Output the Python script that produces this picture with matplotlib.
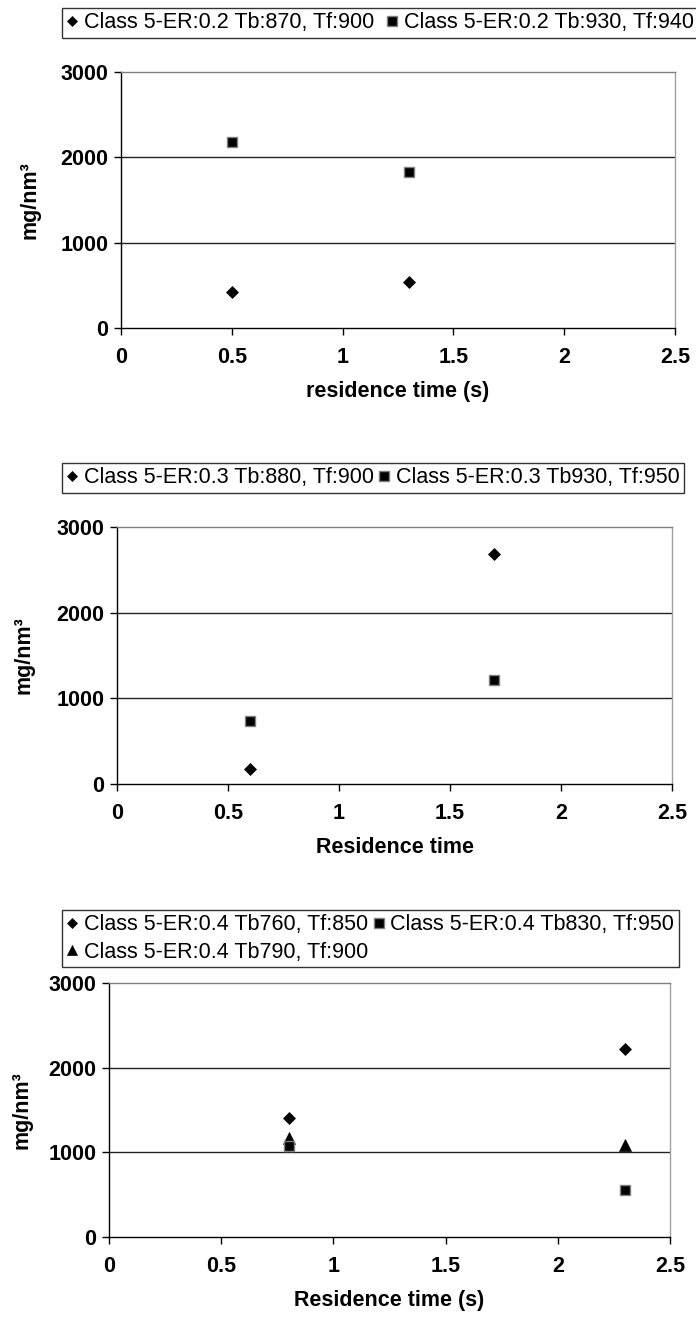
import matplotlib
matplotlib.use('Agg')
import matplotlib.pyplot as plt
from matplotlib.lines import Line2D

plt.rcParams['font.family'] = ['Liberation Sans', 'DejaVu Sans']

W, H = 696, 1320
fig = plt.figure(figsize=(W / 100, H / 100), dpi=100)

# ---------------- data ----------------
x_ticks = [0, 0.5, 1, 1.5, 2, 2.5]
x_tick_labels = ['0', '0.5', '1', '1.5', '2', '2.5']
y_ticks = [0, 1000, 2000, 3000]
y_tick_labels = ['0', '1000', '2000', '3000']

p1_labels = ['Class 5-ER:0.2 Tb:870, Tf:900', 'Class 5-ER:0.2 Tb:930, Tf:940']
p1_x_a = [0.5, 1.3]
p1_y_a = [420, 540]
p1_x_b = [0.5, 1.3]
p1_y_b = [2180, 1830]
p1_xlabel = 'residence time (s)'

p2_labels = ['Class 5-ER:0.3 Tb:880, Tf:900', 'Class 5-ER:0.3 Tb930, Tf:950']
p2_x_a = [0.6, 1.7]
p2_y_a = [170, 2690]
p2_x_b = [0.6, 1.7]
p2_y_b = [730, 1210]
p2_xlabel = 'Residence time'

p3_labels = ['Class 5-ER:0.4 Tb760, Tf:850', 'Class 5-ER:0.4 Tb830, Tf:950',
             'Class 5-ER:0.4 Tb790, Tf:900']
p3_x_a = [0.8, 2.3]
p3_y_a = [1400, 2220]
p3_x_b = [0.8, 2.3]
p3_y_b = [1080, 555]
p3_x_c = [0.8, 2.3]
p3_y_c = [1170, 1090]
p3_xlabel = 'Residence time (s)'

ylabel = 'mg/nm³'

# ---------------- styles ----------------
DIA = dict(marker='D', markersize=6, markerfacecolor='black', markeredgecolor='black',
           markeredgewidth=0.5, linestyle='none')
SQR = dict(marker='s', markersize=7.5, markerfacecolor='black', markeredgecolor='#808080',
           markeredgewidth=1.0, linestyle='none')
TRI = dict(marker='^', markersize=8, markerfacecolor='black', markeredgecolor='black',
           markeredgewidth=0.5, linestyle='none')

TICK_FS = 15.5
LEG_FS = 15.5


def rect(l, t, r, b):
    return [l / W, 1 - b / H, (r - l) / W, (b - t) / H]


def style_axes(ax, xlabel, ylab_x):
    ax.set_xlim(0, 2.5)
    ax.set_ylim(0, 3000)
    ax.set_xticks(x_ticks)
    ax.set_xticklabels(x_tick_labels, fontweight='bold', fontsize=TICK_FS)
    ax.set_yticks(y_ticks)
    ax.set_yticklabels(y_tick_labels, fontweight='bold', fontsize=TICK_FS)
    ax.tick_params(direction='out', length=5, width=1, color='black')
    ax.tick_params(axis='y', pad=4)
    ax.tick_params(axis='x', pad=9)
    for yv in y_ticks[1:-1]:
        ax.axhline(yv, color='#222222', linewidth=1.0, zorder=1)
    ax.spines['left'].set_color('black')
    ax.spines['bottom'].set_color('black')
    ax.spines['top'].set_color('#808080')
    ax.spines['right'].set_color('#a0a0a0')
    for s in ax.spines.values():
        s.set_linewidth(1.0)
    ax.set_xlabel(xlabel, fontweight='bold', fontsize=TICK_FS, labelpad=9)
    ax.set_ylabel(ylabel, fontweight='bold', fontsize=TICK_FS)
    ax.yaxis.set_label_coords(ylab_x, 0.5)


def legend(handles, labels, left, top, ncol, colsp=0.25):
    leg = fig.legend(handles, labels, loc='upper left',
                     bbox_to_anchor=(left / W, 1 - top / H), bbox_transform=fig.transFigure,
                     ncol=ncol, frameon=True, fancybox=False, shadow=False,
                     fontsize=LEG_FS, handlelength=0.5, handletextpad=0.3,
                     columnspacing=colsp, borderpad=0.2, borderaxespad=0, labelspacing=0.3)
    f = leg.get_frame()
    f.set_edgecolor('black')
    f.set_linewidth(1.0)
    return leg


def lh(style, ms):
    d = dict(style)
    d['markersize'] = ms
    return Line2D([], [], **d)


# ---------------- panel 1 ----------------
ax1 = fig.add_axes(rect(121, 72, 675, 328))
ax1.plot(p1_x_a, p1_y_a, zorder=3, **DIA)
ax1.plot(p1_x_b, p1_y_b, zorder=3, **SQR)
style_axes(ax1, p1_xlabel, -0.146)
legend([lh(DIA, 5), lh(SQR, 6.5)], p1_labels, 62, 8, 2, colsp=0.6)

# ---------------- panel 2 ----------------
ax2 = fig.add_axes(rect(117, 527, 672, 784))
ax2.plot(p2_x_a, p2_y_a, zorder=3, **DIA)
ax2.plot(p2_x_b, p2_y_b, zorder=3, **SQR)
style_axes(ax2, p2_xlabel, -0.148)
legend([lh(DIA, 5), lh(SQR, 6.5)], p2_labels, 62, 463, 2)

# ---------------- panel 3 ----------------
ax3 = fig.add_axes(rect(109, 983, 670, 1237))
ax3.plot(p3_x_c, p3_y_c, zorder=3, **TRI)
ax3.plot(p3_x_b, p3_y_b, zorder=3, **SQR)
ax3.plot(p3_x_a, p3_y_a, zorder=4, **DIA)
style_axes(ax3, p3_xlabel, -0.137)
legend([lh(DIA, 5), lh(TRI, 7), lh(SQR, 6.5)],
       [p3_labels[0], p3_labels[2], p3_labels[1]], 62, 910, 2)

fig.savefig('out.png', dpi=100, facecolor='white')
